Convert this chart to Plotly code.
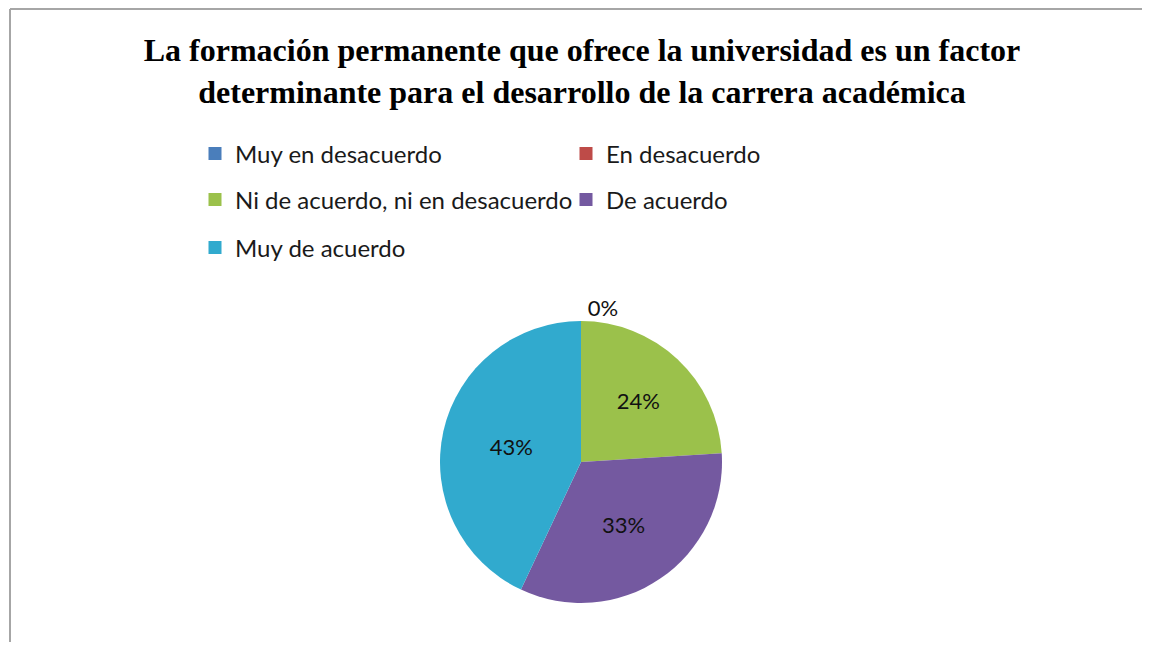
import plotly.graph_objects as go

# respuestas de la encuesta
categorias = ["Muy en desacuerdo", "En desacuerdo", "Ni de acuerdo, ni en desacuerdo",
              "De acuerdo", "Muy de acuerdo"]
porcentajes = [0, 0, 24, 33, 43]
colores = ["#4A7EBB", "#BE4B48", "#9BC14B", "#7459A0", "#31AACE"]
# filas de la leyenda (dos columnas, como en Excel)
filas_leyenda = [[0, 1], [2, 3], [4]]

titulo = ("La formación permanente que ofrece la universidad es un factor<br>"
          "determinante para el desarrollo de la carrera académica")

# la página tiene 8px de margen en el body: la figura ocupa el resto de la ventana
W, H = 1134, 634
OFF = 8


def px(s):
    return (s - OFF) / W


def py(s):
    return 1 - (s - OFF) / H


# posiciones de las etiquetas: los sectores a 0 no llevan texto salvo el primero
posiciones = ["outside" if (v == 0 and i == 0) else ("none" if v == 0 else "inside")
              for i, v in enumerate(porcentajes)]

cx, cy, r = 581, 462, 141

fig = go.Figure()
fig.add_trace(go.Pie(
    labels=categorias,
    values=porcentajes,
    sort=False,
    direction="clockwise",
    rotation=0,
    marker=dict(colors=colores, line=dict(width=0)),
    textinfo="percent",
    texttemplate="%{percent:.0%}",
    textposition=posiciones,
    insidetextorientation="horizontal",
    textfont=dict(family="Lato", size=22, color="#111111"),
    showlegend=False,
    domain=dict(x=[px(cx - r), px(cx + r)], y=[py(cy + r), py(cy - r)]),
    hoverinfo="label+percent",
))

# entradas de leyenda
leyendas = ["legend", "legend2", "legend3"]
for fila, idxs in enumerate(filas_leyenda):
    for i in idxs:
        fig.add_trace(go.Scatter(
            x=[None], y=[None], mode="markers", name=categorias[i],
            marker=dict(symbol="square", size=13, color=colores[i]),
            legend=leyendas[fila], hoverinfo="skip",
        ))

fila_y = [154, 200, 248]
leg_common = dict(orientation="h", xanchor="left", yanchor="middle",
                  x=px(195), entrywidth=326, entrywidthmode="pixels",
                  font=dict(family="Lato", size=24, color="#1a1a1a"),
                  bgcolor="rgba(0,0,0,0)", itemclick=False, itemdoubleclick=False)

fig.update_layout(
    width=W, height=H,
    margin=dict(l=0, r=0, t=0, b=0),
    paper_bgcolor="white", plot_bgcolor="white",
    title=dict(text=titulo, x=px(582), xanchor="center", y=py(61), yanchor="middle",
               font=dict(family="Liberation Serif", size=32, color="black", weight="bold")),
    xaxis=dict(visible=False), yaxis=dict(visible=False),
    legend=dict(leg_common, y=py(fila_y[0])),
    legend2=dict(leg_common, y=py(fila_y[1])),
    legend3=dict(leg_common, y=py(fila_y[2])),
    shapes=[
        dict(type="line", xref="paper", yref="paper", x0=px(10), x1=1, y0=py(9), y1=py(9),
             line=dict(color="#A6A6A6", width=2)),
        dict(type="line", xref="paper", yref="paper", x0=px(10), x1=px(10), y0=0, y1=py(9),
             line=dict(color="#A6A6A6", width=2)),
    ],
)

fig.write_html("out.html")
